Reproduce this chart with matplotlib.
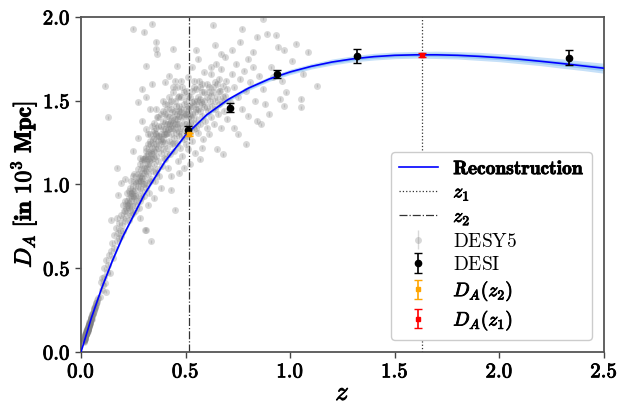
import numpy as np
import matplotlib
matplotlib.use("Agg")
import matplotlib.pyplot as plt
from matplotlib.ticker import FuncFormatter
from matplotlib import patheffects as pe

plt.rcParams['mathtext.fontset'] = 'cm'
plt.rcParams['font.family'] = ['DejaVu Serif']

# Reconstruction curve
recon_z = [0.0, 0.05, 0.1, 0.15, 0.2, 0.3, 0.4, 0.5, 0.6, 0.7, 0.8, 0.9, 1.0, 1.1, 1.2, 1.3,
           1.4, 1.5, 1.6, 1.7, 1.8, 1.9, 2.0, 2.1, 2.2, 2.3, 2.4, 2.5]
recon_da = [0.0, 0.205, 0.385, 0.545, 0.69, 0.935, 1.135, 1.295, 1.415, 1.505, 1.575, 1.63, 1.672,
            1.705, 1.731, 1.750, 1.763, 1.771, 1.774, 1.774, 1.771, 1.765, 1.757, 1.747, 1.735,
            1.722, 1.708, 1.694]
recon_sig = [0.0, 0.002, 0.003, 0.004, 0.004, 0.005, 0.005, 0.005, 0.006, 0.006, 0.007, 0.007, 0.008,
             0.008, 0.009, 0.009, 0.010, 0.010, 0.010, 0.011, 0.011, 0.012, 0.012, 0.013, 0.013,
             0.014, 0.014, 0.015]

# DESI points
desi_z = [0.51, 0.712, 0.935, 1.321, 2.334]
desi_da = [1.327, 1.458, 1.658, 1.767, 1.758]
desi_err = [0.02, 0.028, 0.025, 0.043, 0.043]

# Derived points
z2 = 0.516
z1 = 1.628
da_z2, da_z2_err = 1.300, 0.008
da_z1, da_z1_err = 1.773, 0.010

# DESY5 points (approximate)
desy_pts = [
    (0.012,0.06),(0.014,0.07),(0.015,0.065),(0.016,0.08),(0.017,0.075),(0.018,0.09),(0.019,0.085),
    (0.020,0.10),(0.021,0.095),(0.022,0.105),(0.023,0.10),(0.024,0.11),(0.025,0.115),(0.026,0.11),
    (0.027,0.12),(0.028,0.125),(0.029,0.12),(0.030,0.13),(0.031,0.135),(0.032,0.14),(0.033,0.13),
    (0.034,0.145),(0.035,0.15),(0.036,0.155),(0.037,0.15),(0.038,0.165),(0.039,0.16),(0.040,0.17),
    (0.042,0.175),(0.044,0.185),(0.046,0.19),(0.048,0.20),(0.050,0.21),(0.052,0.215),(0.055,0.225),
    (0.058,0.235),(0.060,0.245),(0.063,0.26),(0.066,0.265),(0.070,0.28),(0.074,0.29),(0.078,0.31),
    (0.082,0.32),(0.025,0.125),(0.030,0.12),(0.035,0.14),(0.040,0.18),(0.045,0.18),(0.020,0.09),
    (0.028,0.135),(0.033,0.15),(0.038,0.155),(0.043,0.17),(0.047,0.205),(0.053,0.22),(0.016,0.07),
    (0.022,0.11),(0.027,0.115),(0.031,0.125),(0.036,0.16),
    (0.013,0.065),(0.017,0.085),(0.019,0.095),(0.021,0.10),(0.023,0.11),(0.024,0.105),(0.026,0.12),
    (0.029,0.13),(0.032,0.135),(0.034,0.14),(0.037,0.16),(0.041,0.175),(0.044,0.18),(0.049,0.205),
    (0.051,0.20),(0.056,0.23),(0.061,0.25),(0.065,0.27),(0.068,0.275),(0.072,0.29),
    (0.015,0.075),(0.018,0.08),(0.020,0.105),(0.024,0.115),(0.027,0.125),(0.030,0.14),(0.034,0.155),
    (0.039,0.17),(0.046,0.195),(0.054,0.225),(0.062,0.255),(0.076,0.30),
    (0.09,0.33),(0.095,0.42),(0.10,0.37),(0.105,0.40),(0.11,0.45),(0.115,0.41),(0.12,0.55),(0.12,0.36),
    (0.125,0.48),(0.13,0.52),(0.135,0.58),(0.14,0.47),(0.143,0.79),(0.145,0.60),(0.15,0.65),(0.155,0.56),
    (0.16,0.70),(0.16,0.62),(0.165,0.74),(0.17,0.66),(0.17,0.80),(0.175,0.71),(0.177,0.94),(0.18,0.68),
    (0.18,0.77),(0.185,0.73),(0.19,0.82),(0.19,0.69),(0.195,0.76),(0.20,0.88),(0.20,0.72),(0.115,1.59),
    (0.13,1.40),(0.17,1.10),(0.19,1.01),(0.21,1.03),(0.11,0.50),(0.10,0.44),
    (0.20,0.80),(0.205,0.84),(0.21,0.78),(0.21,0.90),(0.215,0.86),(0.22,0.82),(0.22,0.95),(0.225,0.88),
    (0.23,0.79),(0.23,0.92),(0.235,0.98),(0.235,0.85),(0.24,0.90),(0.24,1.02),(0.245,0.87),(0.245,0.95),
    (0.25,0.83),(0.25,0.99),(0.255,0.92),(0.255,1.06),(0.26,0.88),(0.26,0.97),(0.265,1.01),(0.265,0.90),
    (0.27,1.09),(0.27,0.94),(0.275,0.86),(0.275,1.04),(0.28,0.98),(0.28,1.12),(0.285,0.92),(0.285,1.02),
    (0.29,1.07),(0.29,0.96),(0.295,1.15),(0.295,1.00),(0.30,0.93),(0.30,1.10),(0.25,1.20),(0.27,1.28),
    (0.29,1.38),(0.29,1.57),(0.27,1.49),(0.25,1.93),(0.31,0.73),(0.28,0.80),
    (0.30,1.04),(0.305,1.16),(0.31,0.98),(0.31,1.08),(0.31,1.22),(0.315,1.12),(0.315,1.01),(0.32,1.18),
    (0.32,1.06),(0.32,1.30),(0.325,1.14),(0.325,0.95),(0.33,1.10),(0.33,1.24),(0.335,1.03),(0.335,1.19),
    (0.34,1.15),(0.34,1.35),(0.345,1.08),(0.345,1.27),(0.35,1.20),(0.35,1.12),(0.355,1.02),(0.355,1.31),
    (0.36,1.17),(0.36,1.24),(0.365,1.09),(0.365,1.40),(0.37,1.22),(0.37,1.14),(0.375,1.29),(0.375,1.05),
    (0.38,1.19),(0.38,1.35),(0.385,1.26),(0.385,1.11),(0.39,1.21),(0.39,1.44),(0.395,1.30),(0.395,1.16),
    (0.40,1.25),(0.40,1.37),(0.335,0.66),(0.306,0.73),(0.31,1.33),(0.31,1.52),(0.31,1.71),(0.34,1.60),
    (0.34,1.96),(0.36,1.85),(0.36,1.81),(0.365,1.78),(0.30,1.91),(0.33,1.45),(0.35,0.92),(0.38,0.98),
    (0.32,0.88),
    (0.40,1.15),(0.405,1.30),(0.41,1.22),(0.41,1.41),(0.415,1.10),(0.415,1.33),(0.42,1.26),(0.42,1.48),
    (0.425,1.18),(0.425,1.37),(0.43,1.30),(0.43,1.05),(0.435,1.43),(0.435,1.24),(0.44,1.34),(0.44,1.55),
    (0.445,1.20),(0.445,1.28),(0.45,1.39),(0.45,0.85),(0.455,1.31),(0.455,1.47),(0.46,1.25),(0.46,1.36),
    (0.465,1.14),(0.465,1.52),(0.47,1.29),(0.47,1.41),(0.475,1.34),(0.475,1.22),(0.48,1.45),(0.48,1.30),
    (0.485,1.58),(0.485,1.17),(0.49,1.37),(0.49,1.27),(0.495,1.42),(0.495,1.33),(0.50,1.50),(0.50,1.24),
    (0.40,1.61),(0.44,1.81),(0.46,1.71),(0.42,1.65),(0.48,1.62),(0.43,0.97),(0.47,1.07),(0.49,1.10),
    (0.50,1.36),(0.505,1.29),(0.51,1.44),(0.51,1.21),(0.515,1.35),(0.52,1.52),(0.52,1.30),(0.525,1.40),
    (0.53,1.26),(0.53,1.47),(0.535,1.37),(0.54,1.58),(0.54,1.33),(0.545,1.19),(0.545,1.43),(0.55,1.80),
    (0.55,1.39),(0.555,1.50),(0.56,1.31),(0.56,1.45),(0.565,1.62),(0.57,1.36),(0.57,1.15),(0.575,1.49),
    (0.58,1.41),(0.58,1.55),(0.585,1.27),(0.59,1.46),(0.59,1.67),(0.595,1.38),(0.60,1.52),(0.60,1.34),
    (0.53,1.70),(0.56,1.75),(0.52,1.12),(0.58,1.22),
    (0.605,1.44),(0.61,1.58),(0.61,1.30),(0.615,1.50),(0.62,1.40),(0.62,1.66),(0.625,1.47),(0.63,1.95),
    (0.63,1.55),(0.635,1.36),(0.64,1.61),(0.64,1.45),(0.645,1.72),(0.65,1.21),(0.65,1.52),(0.655,1.42),
    (0.66,1.63),(0.66,1.48),(0.665,1.56),(0.67,1.34),(0.67,1.69),(0.675,1.50),(0.68,1.18),(0.68,1.59),
    (0.685,1.44),(0.69,1.76),(0.69,1.53),(0.695,1.62),(0.70,1.39),(0.70,1.57),(0.64,1.83),(0.67,1.78),
    (0.71,1.49),(0.72,1.66),(0.73,1.34),(0.73,1.58),(0.74,1.72),(0.75,1.30),(0.75,1.52),(0.76,1.63),
    (0.77,1.93),(0.77,1.45),(0.78,1.68),(0.79,1.56),(0.80,1.75),(0.80,1.41),(0.81,1.61),(0.82,1.70),
    (0.83,1.50),(0.84,1.38),(0.84,1.88),(0.85,1.65),(0.72,1.80),(0.76,1.85),(0.79,1.24),(0.82,1.79),
    (0.86,1.36),(0.87,1.99),(0.87,1.57),(0.89,1.90),(0.90,1.42),(0.91,1.70),(0.93,1.89),(0.94,1.82),
    (0.95,1.51),(0.96,1.62),(0.97,1.47),(0.97,1.80),(0.98,1.55),(1.01,1.74),(1.03,1.84),(1.05,1.51),
    (1.05,1.46),(1.06,1.66),(1.085,1.79),(1.13,1.59),(0.92,1.64),(0.88,1.48),
    (0.22,0.88),(0.23,0.86),(0.24,0.95),(0.25,0.93),(0.26,1.02),(0.27,0.99),(0.28,1.05),(0.29,1.10),
    (0.30,1.00),(0.30,1.15),(0.31,1.17),(0.32,1.12),(0.33,1.20),(0.34,1.22),(0.35,1.28),(0.35,1.16),
    (0.36,1.30),(0.37,1.26),(0.37,1.35),(0.38,1.24),(0.38,1.30),(0.39,1.33),(0.40,1.30),(0.40,1.42),
    (0.41,1.36),(0.42,1.33),(0.42,1.40),(0.43,1.38),(0.43,1.45),(0.44,1.40),(0.45,1.44),(0.45,1.33),
    (0.46,1.42),(0.47,1.47),(0.47,1.36),(0.48,1.40),(0.49,1.48),(0.50,1.42),(0.51,1.40),(0.52,1.46),
    (0.53,1.42),(0.54,1.50),(0.55,1.45),(0.56,1.52),(0.57,1.44),(0.58,1.48),(0.59,1.55),(0.60,1.46),
    (0.62,1.53),(0.64,1.50),(0.66,1.56),(0.68,1.52),(0.33,1.02),(0.36,1.07),(0.41,1.18),(0.44,1.25),
    (0.47,1.32),(0.52,1.37),(0.55,1.34),(0.28,0.90),(0.26,0.84),(0.24,0.82),(0.35,1.37),(0.38,1.42),
    (0.42,1.52),(0.46,1.58),(0.50,1.56),(0.54,1.62),(0.58,1.60),(0.62,1.70),(0.39,1.50),(0.33,1.30),
    (0.36,1.45),(0.45,1.62),(0.51,1.64),
    (0.21,0.84),(0.22,0.90),(0.23,0.89),(0.24,0.93),(0.25,0.96),(0.26,0.93),(0.27,1.02),(0.28,1.02),
    (0.29,1.04),(0.30,1.07),(0.31,1.10),(0.32,1.15),(0.33,1.16),(0.34,1.18),(0.35,1.24),(0.36,1.21),
    (0.37,1.29),(0.38,1.27),(0.39,1.27),(0.40,1.33),(0.41,1.31),(0.42,1.36),(0.43,1.34),(0.44,1.37),
    (0.45,1.36),(0.46,1.39),(0.47,1.44),(0.48,1.43),(0.49,1.41),(0.50,1.45),(0.51,1.47),(0.52,1.41),
    (0.53,1.49),(0.55,1.48),(0.57,1.51),(0.59,1.50),(0.61,1.55),(0.63,1.58),(0.65,1.60),(0.27,1.06),
    (0.29,1.14),(0.31,1.20),(0.33,1.26),(0.35,1.32),(0.37,1.40),(0.39,1.38),(0.41,1.45),(0.43,1.50),
    (0.45,1.50),(0.47,1.53),(0.49,1.55),(0.51,1.53),(0.53,1.56),(0.55,1.57),(0.57,1.58),(0.60,1.60),
    (0.40,1.48),(0.44,1.58),(0.48,1.52),(0.36,1.34),(0.32,1.24),(0.28,1.16),(0.25,1.05),(0.23,0.96),
]
desy_z = [p[0] for p in desy_pts]
desy_da = [p[1] for p in desy_pts]
desy_err = 0.01

fig = plt.figure(figsize=(6.29, 4.04), dpi=100)
ax = fig.add_axes([0.1288, 0.1287, 0.8315, 0.8293])

rz = np.array(recon_z); rd = np.array(recon_da); rs = np.array(recon_sig)
ax.fill_between(rz, rd - 2 * rs, rd + 2 * rs, color='#c6e0f8', lw=0, zorder=1)
ax.fill_between(rz, rd - rs, rd + rs, color='#98c9f3', lw=0, zorder=1)

ax.errorbar(desy_z, desy_da, yerr=desy_err, fmt='o', color='grey', ecolor='grey',
            markersize=5, capsize=4.5, elinewidth=1, capthick=1.5, alpha=0.3,
            label=r'$\mathrm{DESY5}$', zorder=2, markeredgewidth=0)
ax.plot(rz, rd, color='blue', lw=1.2, label=r'$\mathbf{Reconstruction}$', zorder=3)
ax.axvline(z1, color='#333333', ls=':', lw=0.9, label=r'$z_1$', zorder=2)
ax.axvline(z2, color='#333333', ls='-.', lw=0.9, label=r'$z_2$', zorder=2)
ax.errorbar(desi_z, desi_da, yerr=desi_err, fmt='o', color='black', markersize=4.5,
            capsize=3, elinewidth=1.2, label=r'$\mathrm{DESI}$', zorder=4)
ax.errorbar([z2], [da_z2], yerr=[da_z2_err], fmt='s', color='orange', markersize=3.5,
            capsize=3, elinewidth=1.2, label=r'$D_A(z_2)$', zorder=4)
ax.errorbar([z1], [da_z1], yerr=[da_z1_err], fmt='s', color='red', markersize=3.5,
            capsize=3, elinewidth=1.2, label=r'$D_A(z_1)$', zorder=4)

ax.set_xlim(0, 2.5)
ax.set_ylim(0, 2.0)
ax.set_xticks([0, 0.5, 1.0, 1.5, 2.0, 2.5])
ax.set_yticks([0, 0.5, 1.0, 1.5, 2.0])
fmt = FuncFormatter(lambda v, p: r'$\mathbf{%.1f}$' % v)
ax.xaxis.set_major_formatter(fmt)
ax.yaxis.set_major_formatter(fmt)
ax.tick_params(labelsize=15, length=4, width=1, color='#444444')
for s in ax.spines.values():
    s.set_color('#555555')
    s.set_linewidth(1.3)

bold = [pe.withStroke(linewidth=0.7, foreground='black')]
xl = ax.set_xlabel(r'$z$', fontsize=19, labelpad=-1)
yl = ax.set_ylabel(r'$D_A\ \mathbf{[in\ 10^3\ Mpc]}$', fontsize=17, labelpad=3)
xl.set_path_effects(bold)
yl.set_path_effects(bold)

h, l = ax.get_legend_handles_labels()
names = [r'$\mathbf{Reconstruction}$', r'$z_1$', r'$z_2$', r'$\mathrm{DESY5}$',
         r'$\mathrm{DESI}$', r'$D_A(z_2)$', r'$D_A(z_1)$']
order = [l.index(x) for x in names]
leg = ax.legend([h[i] for i in order], [l[i] for i in order], loc='lower right', fontsize=14,
                framealpha=1.0, borderaxespad=0.6, handlelength=2.0, labelspacing=0.27)
for t in leg.get_texts():
    if 'DES' not in t.get_text():
        t.set_path_effects([pe.withStroke(linewidth=0.6, foreground='black')])

fig.canvas.draw()
for lbl in ax.get_xticklabels() + ax.get_yticklabels():
    lbl.set_path_effects([pe.withStroke(linewidth=0.6, foreground='black')])

fig.savefig('out.png', dpi=100)
